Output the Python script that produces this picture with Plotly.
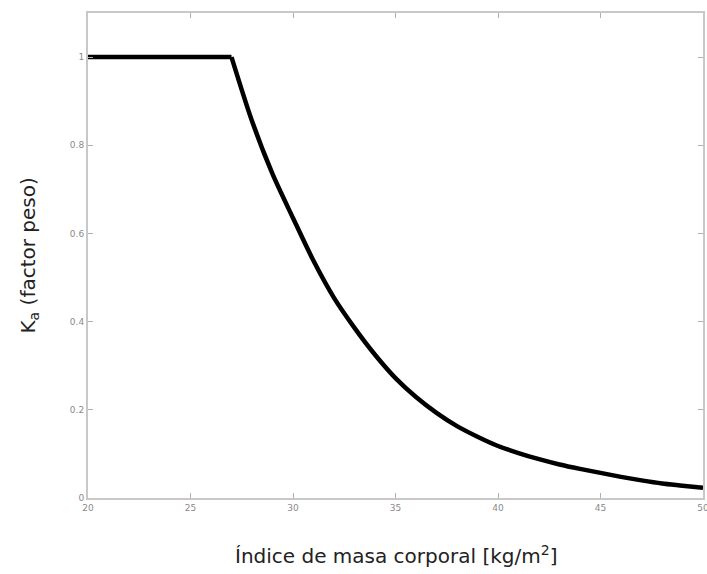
import plotly.graph_objects as go

# Body-mass index (kg/m^2) and the weight factor K_a
bmi = [20, 27, 28, 29, 30, 31, 32, 33, 34, 35, 36, 37, 38, 39, 40,
       41, 42, 43, 44, 45, 46, 47, 48, 49, 50]
ka = [1.0, 1.0, 0.855, 0.735, 0.635, 0.538, 0.454, 0.386, 0.325, 0.272, 0.229,
      0.193, 0.163, 0.139, 0.118, 0.102, 0.088, 0.076, 0.066, 0.057, 0.048,
      0.040, 0.033, 0.028, 0.023]

x_ticks = [20, 25, 30, 35, 40, 45, 50]
y_ticks = [0, 0.2, 0.4, 0.6, 0.8, 1]
y_tick_text = ["0", "0.2", "0.4", "0.6", "0.8", "1"]

# the plateau is straight; the decay beyond the knee is drawn smoothly
knee = 1
line_style = dict(color="black", width=4.5)

fig = go.Figure()
fig.add_trace(go.Scatter(
    x=bmi[:knee + 1], y=ka[:knee + 1], mode="lines",
    line=line_style, showlegend=False,
))
fig.add_trace(go.Scatter(
    x=bmi[knee:], y=ka[knee:], mode="lines",
    line=dict(shape="spline", smoothing=0.8, **line_style),
    showlegend=False,
))

axis_common = dict(
    showline=True, linecolor="#c8c8c8", linewidth=2, mirror="ticks",
    ticks="inside", ticklen=5, tickcolor="#b0b0b0", tickwidth=1,
    showgrid=False, zeroline=False, automargin=False,
    ticklabeloverflow="allow",
    tickfont=dict(family="DejaVu Sans", size=9, color="#8a8a8a"),
)

fig.update_xaxes(range=[20, 50], tickvals=x_ticks, **axis_common)
fig.update_yaxes(range=[0, 1.1], tickvals=y_ticks, ticktext=y_tick_text,
                 **axis_common)

title_font = dict(family="DejaVu Sans", size=20, color="#222")
fig.add_annotation(
    text="Índice de masa corporal [kg/m<sup>2</sup>]",
    xref="paper", yref="paper", x=0.5, y=0, yshift=-57,
    xanchor="center", yanchor="middle", showarrow=False, font=title_font,
)
fig.add_annotation(
    text="K<sub>a</sub> (factor peso)", textangle=-90,
    xref="paper", yref="paper", x=0, y=0.5, xshift=-60,
    xanchor="center", yanchor="middle", showarrow=False, font=title_font,
)

fig.update_layout(
    width=707, height=574,
    margin=dict(l=88, r=4, t=13, b=76),
    paper_bgcolor="white", plot_bgcolor="white",
)

fig.write_html("out.html")
